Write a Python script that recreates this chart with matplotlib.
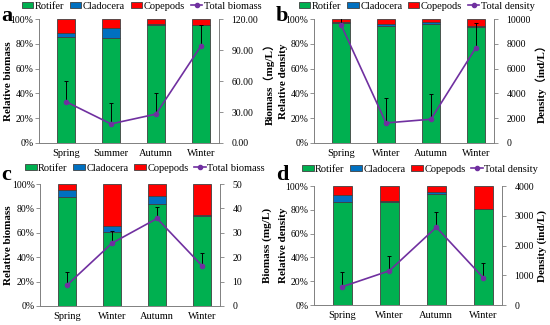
import matplotlib
matplotlib.use('Agg')
import matplotlib.pyplot as plt
import numpy as np
from matplotlib.ticker import FuncFormatter, MultipleLocator

plt.rcParams['font.family'] = ['Liberation Serif', 'Noto Sans CJK SC']
plt.rcParams['font.size'] = 8

# --- dados ---
seasons_a = ['Spring', 'Summer', 'Autumn', 'Winter']
seasons_b = ['Spring', 'Winter', 'Autumn', 'Winter']

rot_a = [86, 85, 95, 95]
cla_a = [2.5, 7.5, 1.5, 0.3]
cop_a = [11.5, 7.5, 3.5, 4.7]
tot_a = [40, 18.5, 28, 94]
err_a = [20, 20, 20, 20]

rot_b = [97, 94.5, 96.5, 94]
cla_b = [1, 1.5, 1.5, 0.5]
cop_b = [2, 4, 2, 5.5]
tot_b = [9550, 1620, 1920, 7700]
err_b = [2000, 2030, 2030, 2030]

rot_c = [89.5, 61, 83.5, 74]
cla_c = [5.5, 4.5, 6.5, 0.3]
cop_c = [5, 34.5, 10, 25.7]
tot_c = [8.6, 25.8, 35.9, 16.5]
err_c = [5.2, 4.9, 4.9, 5.1]

rot_d = [87, 86.3, 93, 80.5]
cla_d = [5.8, 0.9, 2, 0.5]
cop_d = [7.2, 12.8, 5, 19]
tot_d = [615, 1150, 2615, 915]
err_d = [490, 500, 500, 490]

VERDE = '#00B050'
AZUL = '#0070C0'
VERMELHO = '#FF0000'
ROXO = '#7030A0'

fig = plt.figure(figsize=(5.5, 3.25), dpi=100)


def painel(pos, letra, letra_xy, cats, rot, cla, cop, tot, err, ylab, rlab, rmax, rstep, rfmt,
           linelab, leg_xy, lab_x):
    ax = fig.add_axes(pos)
    x = np.arange(len(cats))
    w = 0.4
    ec = '#404040'
    b1 = ax.bar(x, rot, w, color=VERDE, edgecolor=ec, linewidth=0.6, label='Rotifer')
    b2 = ax.bar(x, cla, w, bottom=rot, color=AZUL, edgecolor=ec, linewidth=0.6, label='Cladocera')
    base = np.array(rot) + np.array(cla)
    b3 = ax.bar(x, cop, w, bottom=base, color=VERMELHO, edgecolor=ec, linewidth=0.6, label='Copepods')
    ax.set_ylim(0, 100)
    ax.set_xlim(-0.6, 3.4)
    ax.yaxis.set_major_locator(MultipleLocator(20))
    ax.yaxis.set_major_formatter(FuncFormatter(lambda v, p: f'{v:.0f}%'))
    ax.set_xticks(x)
    ax.set_xticklabels(cats, fontsize=7.5)
    ax.tick_params(axis='x', length=0, pad=4)
    ax.tick_params(axis='y', labelsize=7, length=3, width=0.6, color='#808080', pad=1)
    ax.set_ylabel(ylab, fontsize=8, fontweight='bold')
    ax.yaxis.set_label_coords(lab_x[0], 0.5)
    ax.spines['top'].set_visible(False)
    for s in ['left', 'bottom', 'right']:
        ax.spines[s].set_color('#808080')
        ax.spines[s].set_linewidth(0.6)

    ax2 = ax.twinx()
    ax2.errorbar(x, tot, yerr=[np.zeros(len(err)), err], fmt='none', ecolor='black',
                 elinewidth=0.7, capsize=1.5, capthick=0.7, zorder=2)
    l, = ax2.plot(x, tot, color=ROXO, lw=1.2, marker='o', ms=3, label=linelab, zorder=3)
    ax2.set_ylim(0, rmax)
    ax2.yaxis.set_major_locator(MultipleLocator(rstep))
    ax2.yaxis.set_major_formatter(FuncFormatter(lambda v, p: rfmt.format(v)))
    ax2.tick_params(axis='y', labelsize=7, length=3, width=0.6, color='#808080', pad=6)
    ax2.set_ylabel(rlab, fontsize=8, fontweight='bold')
    ax2.yaxis.set_label_coords(lab_x[1], 0.5)
    ax2.spines['top'].set_visible(False)
    for s in ['left', 'bottom', 'right']:
        ax2.spines[s].set_color('#808080')
        ax2.spines[s].set_linewidth(0.6)

    ax.legend(handles=[b1, b2, b3, l], loc='center', bbox_to_anchor=leg_xy,
              ncol=4, frameon=False, fontsize=7.5, handlelength=1.1, handleheight=0.5,
              handletextpad=0.15, columnspacing=0.55, borderaxespad=0, borderpad=0)
    fig.text(letra_xy[0], letra_xy[1], letra, fontsize=16,
             fontweight='bold', va='center', ha='left')
    return ax, ax2


painel([0.071, 0.56, 0.327, 0.381], 'a', (0.002, 0.952), seasons_a, rot_a, cla_a, cop_a, tot_a, err_a,
       'Relative biomass', 'Biomass（mg/L）', 120, 30, '{:.2f}', 'Total biomass', (0.57, 1.105),
       (-0.144, 1.244))
painel([0.571, 0.56, 0.327, 0.381], 'b', (0.502, 0.952), seasons_b, rot_b, cla_b, cop_b, tot_b, err_b,
       'Relative density', 'Density（ind/L）', 10000, 2000, '{:.0f}', 'Total density', (0.572, 1.105),
       (-0.144, 1.228))
painel([0.073, 0.0585, 0.327, 0.375], 'c', (0.002, 0.462), seasons_b, rot_c, cla_c, cop_c, tot_c, err_c,
       'Relative biomass', 'Biomass (mg/L)', 50, 10, '{:.0f}', 'Total biomass', (0.583, 1.13),
       (-0.15, 1.233))
painel([0.571, 0.0615, 0.342, 0.366], 'd', (0.502, 0.462), seasons_b, rot_d, cla_d, cop_d, tot_d, err_d,
       'Relative density', 'Density (ind/L)', 4000, 1000, '{:.0f}', 'Total density', (0.564, 1.143),
       (-0.138, 1.186))

fig.savefig('out.png', dpi=100)
